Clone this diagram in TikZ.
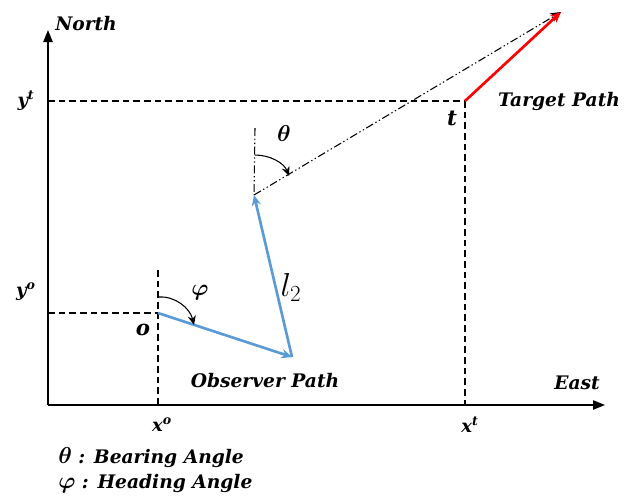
\documentclass[tikz,border=0pt]{standalone}
\usepackage{fontspec}
\usepackage{amsmath}
\setmainfont{DejaVu Serif}
\usetikzlibrary{arrows.meta}
\definecolor{obsblue}{RGB}{91,155,213}
\tikzset{
  lbl/.style={font=\bfseries\itshape\fontsize{14}{16}\selectfont, inner sep=0pt},
  ticklbl/.style={font=\bfseries\itshape\fontsize{13.5}{15}\selectfont, inner sep=0pt},
  axis/.style={line width=1pt, -{Triangle[length=9pt,width=7pt]}},
  guide/.style={line width=0.8pt, dash pattern=on 5pt off 3pt},
  ddline/.style={line width=0.8pt, dash pattern=on 6pt off 2pt on 1pt off 2pt on 1pt off 2pt},
  obs/.style={obsblue, line width=2pt, -{Stealth[length=8pt,width=7pt]}},
  tgt/.style={red, line width=2pt, -{Stealth[length=8pt,width=7pt]}},
  anglearc/.style={line width=0.8pt, -{Stealth[length=7pt,width=6pt]}}
}
\begin{document}
\begin{tikzpicture}[x=0.75pt,y=-0.75pt]
\useasboundingbox (0,0) rectangle (624,497);
% coordinates
\coordinate (O) at (48,405);
\coordinate (N) at (48,30);
\coordinate (E) at (605,405);
\coordinate (yt) at (48,101);
\coordinate (yo) at (48,313);
\coordinate (xo) at (158,405);
\coordinate (xt) at (465,405);
\coordinate (o) at (158,313);
\coordinate (t) at (465,101);
\coordinate (p1) at (292,357);
\coordinate (p2) at (254,195);
\coordinate (tend) at (561,12);
\coordinate (p2top) at (255,128);
\coordinate (otop) at (158,270);
% axes
\draw[axis] (O) -- (N);
\draw[axis] (O) -- (E);
% guides
\draw[guide] (yt) -- (t);
\draw[guide] (yo) -- (o);
\draw[guide] (t) -- (xt);
\draw[guide] (otop) -- (xo);
% bearing line
\draw[ddline] (p2top) -- (p2);
\draw[ddline, -{Stealth[length=8pt,width=7pt]}] (p2) -- (tend);
% paths
\draw[tgt] (t) -- (tend);
\draw[obs] (o) -- (p1);
\draw[obs] (p1) -- (p2);
% angle arcs
\coordinate (ta) at (255,155);
\coordinate (tb) at (289,176);
\draw[anglearc] (ta) .. controls (270,155) and (284,163) .. (tb);
\coordinate (pa) at (159,297);
\coordinate (pb) at (194,325);
\draw[anglearc] (pa) .. controls (175,296) and (190,308) .. (pb);
% labels
\node[lbl, anchor=west] (north) at (55,24) {North};
\node[lbl] (east) at (577,383) {East};
\node[lbl] (tp) at (559,101) {Target Path};
\node[lbl] (op) at (265,381) {Observer Path};
\node[ticklbl] (ytl) at (26,101) {y\textsuperscript{t}};
\node[ticklbl] (yol) at (26,292) {y\textsuperscript{o}};
\node[ticklbl] (xol) at (162,425) {x\textsuperscript{o}};
\node[ticklbl] (xtl) at (470,425) {x\textsuperscript{t}};
\node[font=\bfseries\itshape\fontsize{16}{18}\selectfont, inner sep=0pt] (tl) at (452,118) {t};
\node[font=\bfseries\itshape\fontsize{16}{18}\selectfont, inner sep=0pt] (ol) at (143,330) {o};
\node[inner sep=0pt, font=\fontsize{23}{25}\selectfont] (l2) at (291,287) {$l_2$};
\node[inner sep=0pt, font=\fontsize{17}{19}\selectfont] (th) at (284,133) {$\boldsymbol{\theta}$};
\node[inner sep=0pt, font=\fontsize{16}{18}\selectfont] (ph) at (200,293) {$\boldsymbol{\varphi}$};
\node[lbl, anchor=west] (leg1) at (58,458) {\fontsize{16}{18}\selectfont$\boldsymbol{\theta}$\fontsize{14}{16}\selectfont{} : Bearing Angle};
\node[lbl, anchor=west] (leg2) at (58,484) {\fontsize{16}{18}\selectfont$\boldsymbol{\varphi}$\fontsize{14}{16}\selectfont{} : Heading Angle};
\end{tikzpicture}
\end{document}
